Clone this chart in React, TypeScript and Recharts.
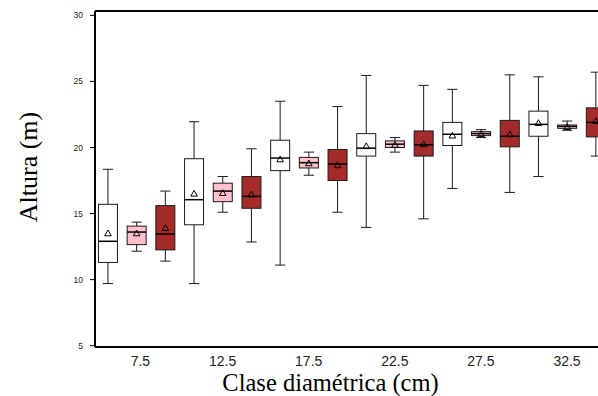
import React from 'react';
import { Bar, ComposedChart, Label, ReferenceLine, XAxis, YAxis } from 'recharts';

// Clases diamétricas (cm)
const clases = [7.5, 12.5, 17.5, 22.5, 27.5, 32.5];

// Por clase: [mín, Q1, mediana, Q3, máx, media] de la altura (m)
const grupoBlanco = [
  [9.7, 11.3, 12.9, 15.7, 18.35, 13.5],
  [9.7, 14.15, 16.05, 19.15, 21.95, 16.5],
  [11.1, 18.25, 19.2, 20.55, 23.5, 19.1],
  [13.95, 19.35, 19.95, 21.05, 25.45, 20.1],
  [16.9, 20.15, 21.0, 21.9, 24.4, 20.9],
  [17.8, 20.85, 21.75, 22.75, 25.35, 21.85],
];
const grupoRosa = [
  [12.15, 12.65, 13.6, 14.05, 14.35, 13.5],
  [15.1, 15.9, 16.7, 17.3, 17.8, 16.55],
  [17.9, 18.45, 18.85, 19.25, 19.65, 18.8],
  [19.65, 20.0, 20.25, 20.5, 20.75, 20.2],
  [20.75, 20.9, 21.05, 21.2, 21.35, 21.0],
  [21.3, 21.45, 21.6, 21.7, 22.0, 21.55],
];
const grupoRojo = [
  [11.4, 12.25, 13.45, 15.6, 16.7, 13.9],
  [12.85, 15.4, 16.3, 17.8, 19.9, 16.45],
  [15.1, 17.5, 18.75, 19.85, 23.1, 18.65],
  [14.6, 19.35, 20.2, 21.25, 24.7, 20.25],
  [16.6, 20.05, 20.85, 22.05, 25.5, 21.0],
  [19.35, 20.8, 21.9, 23.0, 25.7, 22.0],
];

const grupos = [grupoBlanco, grupoRosa, grupoRojo];
const rellenos = ['#ffffff', '#ffc0cb', '#a52a2a'];
const ticksY = [5, 10, 15, 20, 25, 30];
const dominioY = [4.9, 30.33];
const dominioX = [-0.446, 17.08];

const datos = clases.flatMap((clase, i) =>
  grupos.map((g, j) => {
    const [min, q1, med, q3, max, media] = g[i];
    return { pos: i * 3 + j, clase, grupo: j, min, q1, med, q3, max, media };
  })
);

const ticksX = clases.map((_, i) => i * 3 + 1);

const formatoClase = (v: number) => {
  const s = String(clases[Math.round((v - 1) / 3)]);
  return s.length < 4 ? '\u2007' + s : s;
};

function Caja(props: any) {
  const { x, y, width, height, payload } = props;
  if (!payload) return null;
  const top = Math.min(y, y + height);
  const bottom = Math.max(y, y + height);
  const { min, q1, med, q3, max, media, grupo } = payload;
  const py = (v: number) => top + ((max - v) / (max - min)) * (bottom - top);
  const cx = x + width / 2;
  const cap = width * 0.27;
  const ym = py(media);
  const linea = '#1a1a1a';
  return (
    <g>
      <line x1={cx} x2={cx} y1={py(max)} y2={py(q3)} stroke={linea} strokeWidth={1} />
      <line x1={cx} x2={cx} y1={py(q1)} y2={py(min)} stroke={linea} strokeWidth={1} />
      <line x1={cx - cap} x2={cx + cap} y1={py(max)} y2={py(max)} stroke={linea} strokeWidth={1} />
      <line x1={cx - cap} x2={cx + cap} y1={py(min)} y2={py(min)} stroke={linea} strokeWidth={1} />
      <rect
        x={x}
        y={py(q3)}
        width={width}
        height={py(q1) - py(q3)}
        fill={rellenos[grupo]}
        stroke={linea}
        strokeWidth={1}
      />
      <line x1={x} x2={x + width} y1={py(med)} y2={py(med)} stroke="#000" strokeWidth={1.5} />
      <path
        d={`M${cx},${ym - 3.3} L${cx + 3.3},${ym + 2.4} L${cx - 3.3},${ym + 2.4} Z`}
        fill="none"
        stroke="#000"
        strokeWidth={1}
      />
    </g>
  );
}

const tituloX = (props: any) => {
  const { x, y, width, height } = props.viewBox;
  return (
    <text
      x={x + width / 2 - 16}
      y={y + height - 5}
      textAnchor="middle"
      fontFamily="'Liberation Serif', 'Times New Roman', serif"
      fontSize={24.5}
      fill="#000"
    >
      Clase diamétrica (cm)
    </text>
  );
};

const tituloY = (props: any) => {
  const { y, height } = props.viewBox;
  const cx = 37;
  const cy = y + height / 2 - 12;
  return (
    <text
      x={cx}
      y={cy}
      transform={`rotate(-90, ${cx}, ${cy})`}
      textAnchor="middle"
      fontFamily="'Liberation Serif', 'Times New Roman', serif"
      fontSize={26}
      fill="#000"
    >
      Altura (m)
    </text>
  );
};

export default function App() {
  return (
    <div style={{ position: 'absolute', left: 0, top: 0, width: 598, height: 396, overflow: 'hidden', background: '#fff' }}>
      <ComposedChart
        width={598}
        height={396}
        data={datos}
        margin={{ top: 11, right: 0, left: 0, bottom: 0 }}
      >
        <XAxis
          dataKey="pos"
          type="number"
          domain={dominioX}
          ticks={ticksX}
          tickFormatter={formatoClase}
          interval={0}
          height={49}
          tickLine={false}
          tickSize={6}
          tickMargin={3}
          axisLine={{ stroke: '#000', strokeWidth: 2 }}
          tick={{ fill: '#222', fontSize: 14, fontFamily: "'Liberation Sans', Arial, sans-serif" }}
        >
          <Label content={tituloX} />
        </XAxis>
        <YAxis
          type="number"
          domain={dominioY}
          ticks={ticksY}
          interval={0}
          width={95}
          tickSize={5}
          tickMargin={7}
          axisLine={{ stroke: '#000', strokeWidth: 2 }}
          tickLine={{ stroke: '#000', strokeWidth: 1 }}
          tick={{ fill: '#222', fontSize: 8.5, fontFamily: "'Liberation Sans', Arial, sans-serif" }}
        >
          <Label content={tituloY} />
        </YAxis>
        <ReferenceLine y={dominioY[1]} stroke="#000" strokeWidth={2} ifOverflow="visible" />
        <Bar
          dataKey={(d: any) => [d.min, d.max]}
          barSize={19}
          shape={<Caja />}
          isAnimationActive={false}
        />
      </ComposedChart>
    </div>
  );
}
